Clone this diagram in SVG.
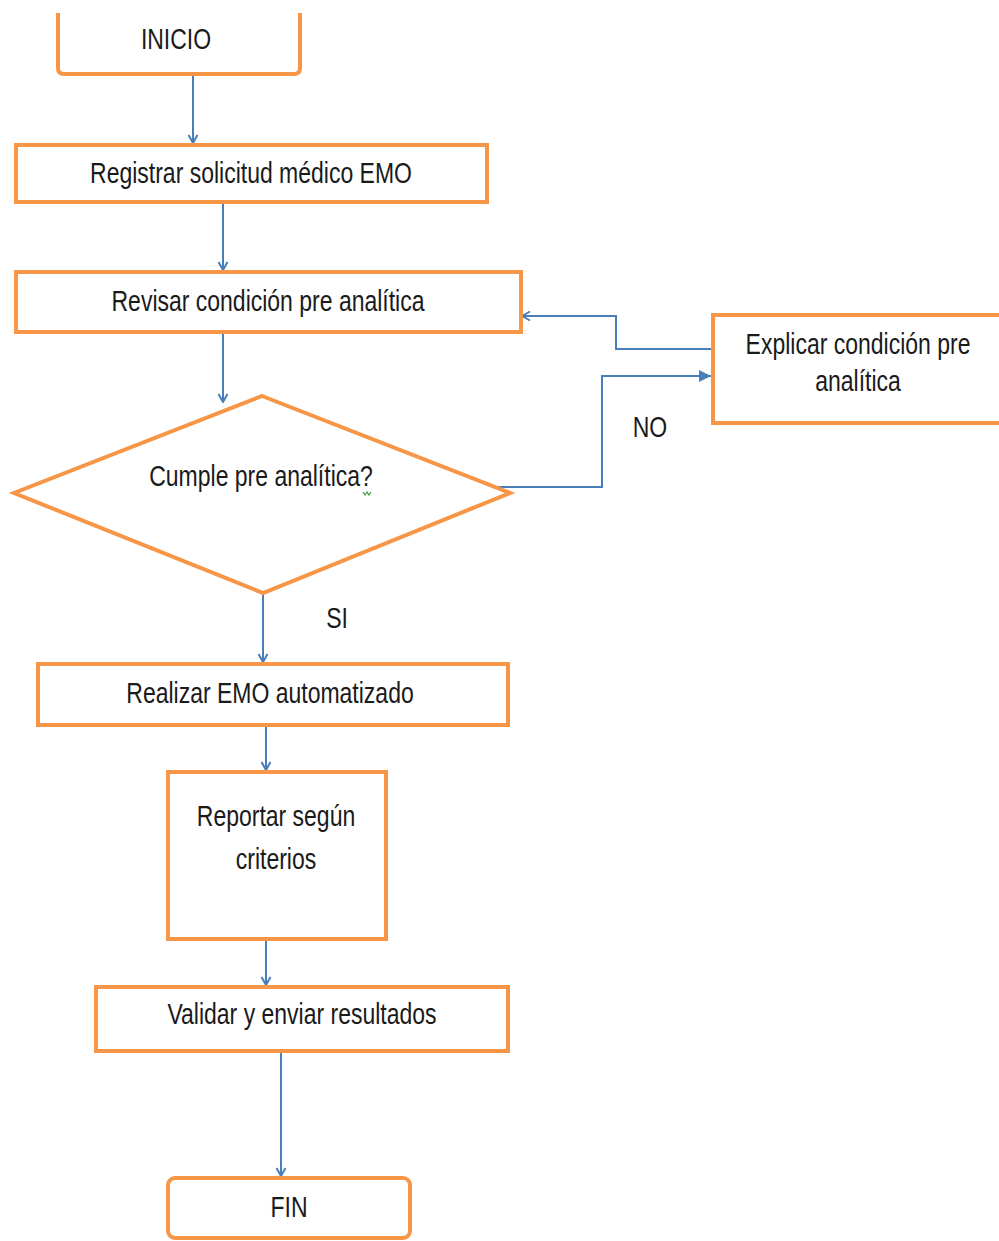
<svg xmlns="http://www.w3.org/2000/svg" width="999" height="1241" viewBox="0 0 999 1241">
<style>
.box{fill:#fff;stroke:#F79646;stroke-width:4}
.t{font-family:"Liberation Sans",Arial,sans-serif;font-size:23px;fill:#1a1a1a;text-anchor:middle}
.c{fill:none;stroke:#4A7EBB;stroke-width:2}
</style>
<defs>
<marker id="open" markerUnits="userSpaceOnUse" markerWidth="12" markerHeight="12" viewBox="0 0 12 12" refX="11" refY="6" orient="auto">
<path d="M3,1.5 L11,6 L3,10.5" fill="none" stroke="#4A7EBB" stroke-width="2"/>
</marker>
<marker id="fill" markerUnits="userSpaceOnUse" markerWidth="14" markerHeight="14" viewBox="0 0 14 14" refX="13" refY="7" orient="auto">
<path d="M1,1 L13,7 L1,13 Z" fill="#4A7EBB"/>
</marker>
</defs>
<rect width="999" height="1241" fill="#fff"/>
<g id="connectors">
<line class="c" x1="193" y1="74" x2="193" y2="143" marker-end="url(#open)"/>
<line class="c" x1="223" y1="202" x2="223" y2="270" marker-end="url(#open)"/>
<line class="c" x1="223" y1="332" x2="223" y2="402" marker-end="url(#open)"/>
<polyline class="c" points="497,487 602,487 602,376 711,376" marker-end="url(#fill)"/>
<polyline class="c" points="712,349 616,349 616,316 522,316" marker-end="url(#open)"/>
<line class="c" x1="263" y1="593" x2="263" y2="662" marker-end="url(#open)"/>
<line class="c" x1="266" y1="725" x2="266" y2="770" marker-end="url(#open)"/>
<line class="c" x1="266" y1="939" x2="266" y2="985" marker-end="url(#open)"/>
<line class="c" x1="281" y1="1051" x2="281" y2="1176" marker-end="url(#open)"/>
</g>
<g id="inicio">
<path class="box" d="M58,13 V68 Q58,74 64,74 H294 Q300,74 300,68 V13"/>
<text class="t" transform="translate(176,49) scale(1,1.3)">INICIO</text>
</g>
<g id="registrar">
<rect class="box" x="16" y="145" width="471" height="57"/>
<text class="t" transform="translate(251,183) scale(1,1.25)">Registrar solicitud médico EMO</text>
</g>
<g id="revisar">
<rect class="box" x="16" y="272" width="505" height="60"/>
<text class="t" transform="translate(268,311) scale(1,1.25)">Revisar condición pre analítica</text>
</g>
<g id="cumple">
<polygon class="box" points="262,396 510,493 263,593 14,493"/>
<text class="t" transform="translate(261,486) scale(1,1.25)">Cumple pre analítica?</text>
<path d="M363,492 l2,3 l2,-3 l2,3 l2,-3" fill="none" stroke="#3a9a3a" stroke-width="1.2"/>
</g>
<g id="explicar">
<rect class="box" x="713" y="315" width="300" height="108"/>
<text class="t" transform="translate(858,354) scale(1,1.25)">Explicar condición pre</text>
<text class="t" transform="translate(858,391) scale(1,1.25)">analítica</text>
</g>
<g id="labels">
<text class="t" transform="translate(650,437) scale(1,1.3)">NO</text>
<text class="t" transform="translate(337,628) scale(1,1.3)">SI</text>
</g>
<g id="realizar">
<rect class="box" x="38" y="664" width="470" height="61"/>
<text class="t" transform="translate(270,703) scale(1,1.25)">Realizar EMO automatizado</text>
</g>
<g id="reportar">
<rect class="box" x="168" y="772" width="218" height="167"/>
<text class="t" transform="translate(276,826) scale(1,1.25)">Reportar según</text>
<text class="t" transform="translate(276,869) scale(1,1.25)">criterios</text>
</g>
<g id="validar">
<rect class="box" x="96" y="987" width="412" height="64"/>
<text class="t" transform="translate(302,1024) scale(1,1.25)">Validar y enviar resultados</text>
</g>
<g id="fin">
<rect class="box" x="168" y="1178" width="242" height="60" rx="7"/>
<text class="t" transform="translate(289,1217) scale(1,1.3)">FIN</text>
</g>
</svg>
